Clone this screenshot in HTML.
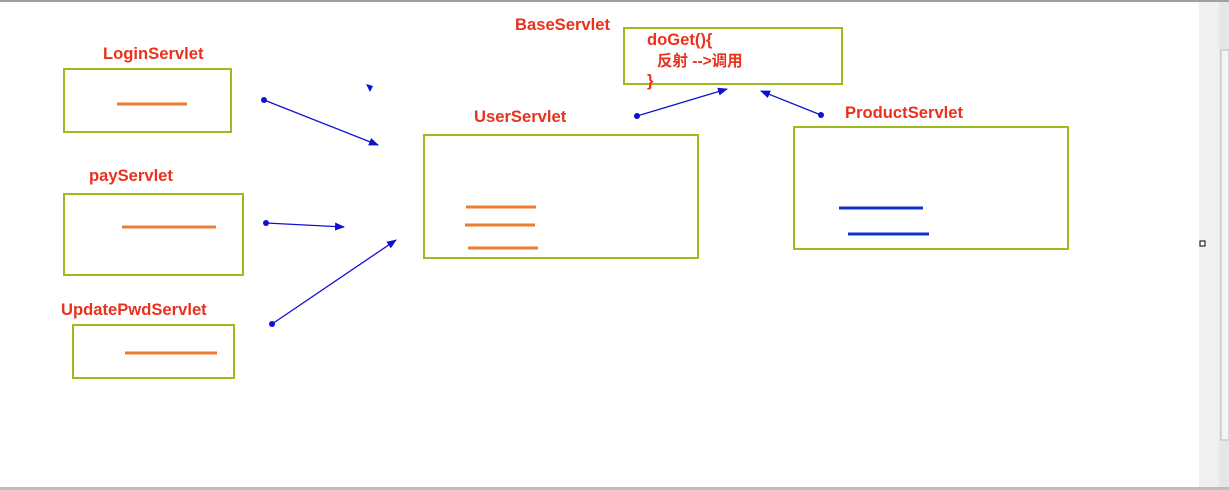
<!DOCTYPE html>
<html><head><style>
html,body{margin:0;padding:0;background:#fff;width:1229px;height:490px;overflow:hidden}
svg{display:block}
text{font-family:"Liberation Sans","Noto Sans CJK SC",sans-serif;font-weight:bold;fill:#e8321e;font-size:16.6px}
</style></head><body>
<svg width="1229" height="490" viewBox="0 0 1229 490">
<defs><marker id="a" markerWidth="10" markerHeight="8" refX="9" refY="4" orient="auto" markerUnits="userSpaceOnUse"><path d="M0,0 L10,4 L0,8 Z" fill="#1010d0"/></marker></defs>
<rect x="0" y="0" width="1229" height="2" fill="#a0a0a0"/>
<rect x="1199" y="2" width="20" height="486" fill="#f0f0f0"/>
<rect x="1219" y="2" width="10" height="486" fill="#e6e6e6"/>
<rect x="1221" y="50" width="8" height="390" fill="#f4f4f4" stroke="#bbb"/>
<rect x="1200" y="241" width="5" height="5" fill="#fff" stroke="#000"/>
<rect x="0" y="487" width="1229" height="3" fill="#bdbdbd"/>
<g fill="none" stroke="#9bbb1f" stroke-width="2">
<rect x="64" y="69" width="167" height="63"/>
<rect x="64" y="194" width="179" height="81"/>
<rect x="73" y="325" width="161" height="53"/>
<rect x="424" y="135" width="274" height="123"/>
<rect x="624" y="28" width="218" height="56"/>
<rect x="794" y="127" width="274" height="122"/>
</g>
<g stroke="#ed7d31" stroke-width="3">
<line x1="117" y1="104" x2="187" y2="104"/>
<line x1="122" y1="227" x2="216" y2="227"/>
<line x1="125" y1="353" x2="217" y2="353"/>
<line x1="466" y1="207" x2="536" y2="207"/>
<line x1="465" y1="225" x2="535" y2="225"/>
<line x1="468" y1="248" x2="538" y2="248"/>
</g>
<g stroke="#1030c8" stroke-width="3">
<line x1="839" y1="208" x2="923" y2="208"/>
<line x1="848" y1="234" x2="929" y2="234"/>
</g>
<g stroke="#1010d0" stroke-width="1.3" fill="none">
<line x1="264" y1="100" x2="378" y2="145" marker-end="url(#a)"/>
<line x1="266" y1="223" x2="344" y2="227" marker-end="url(#a)"/>
<line x1="272" y1="324" x2="396" y2="240" marker-end="url(#a)"/>
<line x1="637" y1="116" x2="727" y2="89" marker-end="url(#a)"/>
<line x1="821" y1="115" x2="761" y2="91" marker-end="url(#a)"/>
</g>
<g fill="#1010d0">
<circle cx="264" cy="100" r="3"/><circle cx="266" cy="223" r="3"/><circle cx="272" cy="324" r="3"/>
<circle cx="637" cy="116" r="3"/><circle cx="821" cy="115" r="3"/>
<path d="M366,84 l7,2 l-3,6 z"/>
</g>
<text x="103" y="59">LoginServlet</text>
<text x="89" y="181">payServlet</text>
<text x="61" y="315">UpdatePwdServlet</text>
<text x="474" y="122">UserServlet</text>
<text x="515" y="30">BaseServlet</text>
<text x="845" y="118">ProductServlet</text>
<text x="647" y="45">doGet(){</text>
<text x="657" y="66" style="font-size:15.5px">反射 --&gt;调用</text>
<text x="647" y="86">}</text>
</svg>
</body></html>
